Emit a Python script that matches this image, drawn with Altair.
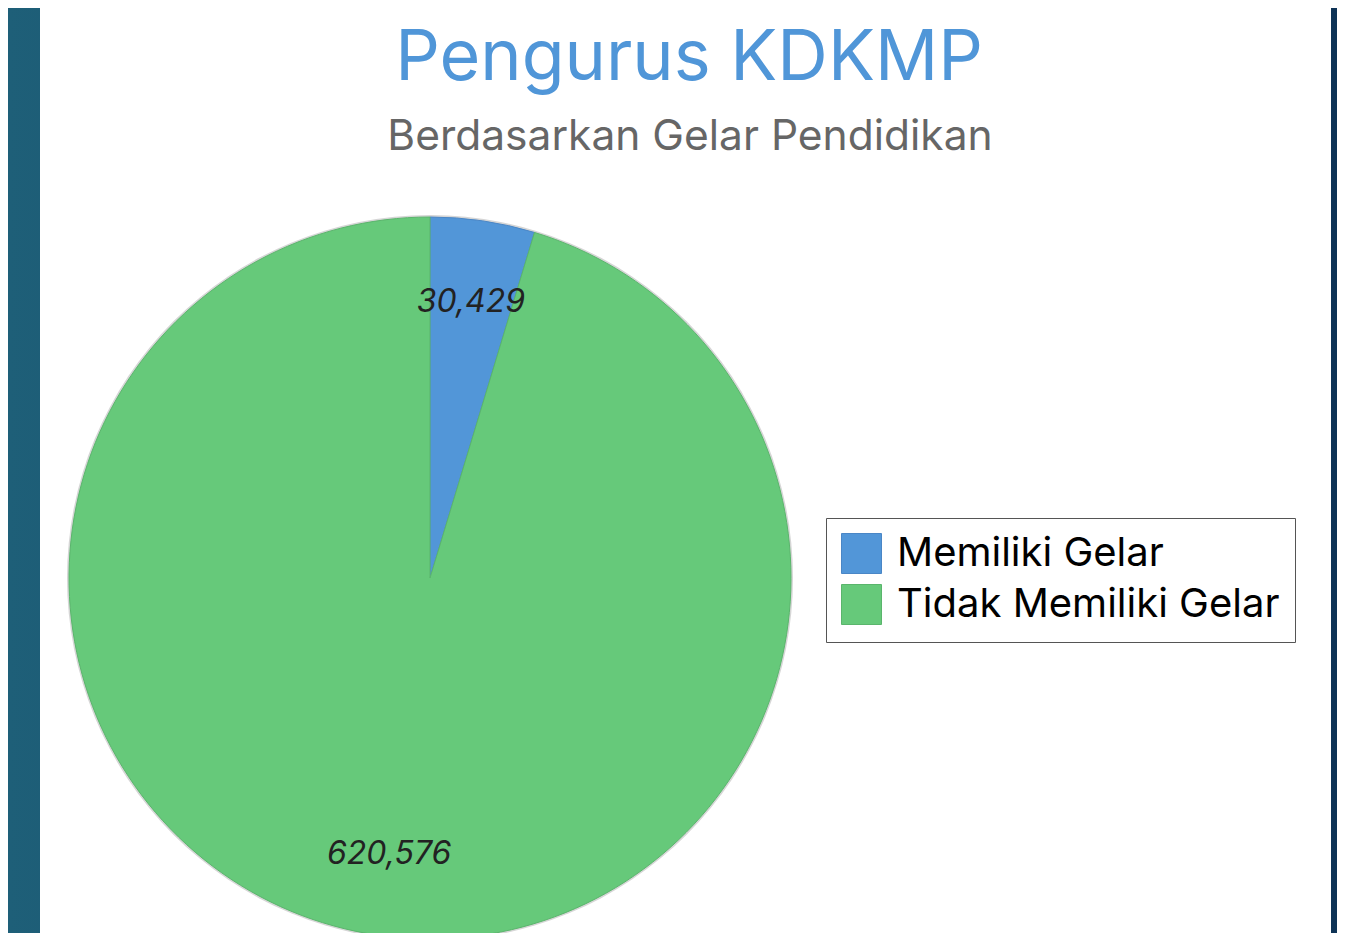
import altair as alt
import pandas as pd

# ---- data ----
categories = ["Memiliki Gelar", "Tidak Memiliki Gelar"]
values = [30429, 620576]
labels = ["30,429", "620,576"]
slice_colors = ["#5296d8", "#66c97a"]
edge_colors = ["#4a86c6", "#5ab56c"]

title_text = ["Pengurus KDKMP"]
subtitle_text = ["Berdasarkan Gelar Pendidikan"]

df = pd.DataFrame({"kategori": categories, "jumlah": values, "label": labels,
                   "urut": list(range(len(categories)))})

W, H = 1329, 925
CX, CY, R = 422, 570, 361
FONT = "Inter"

bg = alt.Chart(pd.DataFrame({"p": [0]})).mark_rect(
    color=alt.LinearGradient(
        gradient="linear", x1=0, y1=0, x2=1, y2=0,
        stops=[alt.GradientStop(color="#1e5f78", offset=0),
               alt.GradientStop(color="#0e3356", offset=1)],
    )
).encode(x=alt.value(0), x2=alt.value(W), y=alt.value(0), y2=alt.value(H))

panel = alt.Chart(pd.DataFrame({"p": [0]})).mark_rect(color="white").encode(
    x=alt.value(32), x2=alt.value(1323), y=alt.value(0), y2=alt.value(H)
)

title = alt.Chart(pd.DataFrame({"t": title_text})).mark_text(
    font=FONT, fontSize=70, color="#5096d8", align="center", baseline="alphabetic"
).encode(x=alt.value(681), y=alt.value(72), text="t:N")

subtitle = alt.Chart(pd.DataFrame({"t": subtitle_text})).mark_text(
    font=FONT, fontSize=42.5, color="#666666", align="center", baseline="alphabetic"
).encode(x=alt.value(682), y=alt.value(142), text="t:N")

shadow = alt.Chart(pd.DataFrame({"p": [0]})).mark_arc(
    theta=0, theta2=6.2832, outerRadius=R + 2, color="#d6d6d6"
).encode(x=alt.value(CX), y=alt.value(CY))

base = alt.Chart(df).encode(
    theta=alt.Theta("jumlah:Q", stack=True),
    order=alt.Order("urut:Q"),
)

pie = base.mark_arc(outerRadius=R, strokeWidth=1).encode(
    x=alt.value(CX), y=alt.value(CY),
    color=alt.Color(
        "kategori:N",
        scale=alt.Scale(domain=categories, range=slice_colors),
        sort=categories,
        legend=alt.Legend(
            orient="none", legendX=818, legendY=510, title=None,
            symbolType="square", symbolSize=1600, symbolStrokeColor="#e6e6e6",
            symbolStrokeWidth=1, labelFont=FONT, labelFontSize=40,
            labelColor="#000000", labelOffset=15, rowPadding=6, padding=15,
            strokeColor="#555555", fillColor="#ffffff", labelLimit=600,
        ),
    ),
    stroke=alt.Stroke("kategori:N", scale=alt.Scale(domain=categories, range=edge_colors),
                      legend=None),
)

text = base.mark_text(
    radius=279, font=FONT, fontSize=32, fontStyle="italic", color="#222222",
    align="center", baseline="middle"
).encode(x=alt.value(CX), y=alt.value(CY), text="label:N")

chart = alt.layer(bg, panel, title, subtitle, shadow, pie, text).properties(
    width=W, height=H,
    autosize=alt.AutoSizeParams(type="none"),
    padding=0,
).configure_view(stroke=None)

chart.save("out.html", embed_options={"renderer": "svg", "actions": False})
